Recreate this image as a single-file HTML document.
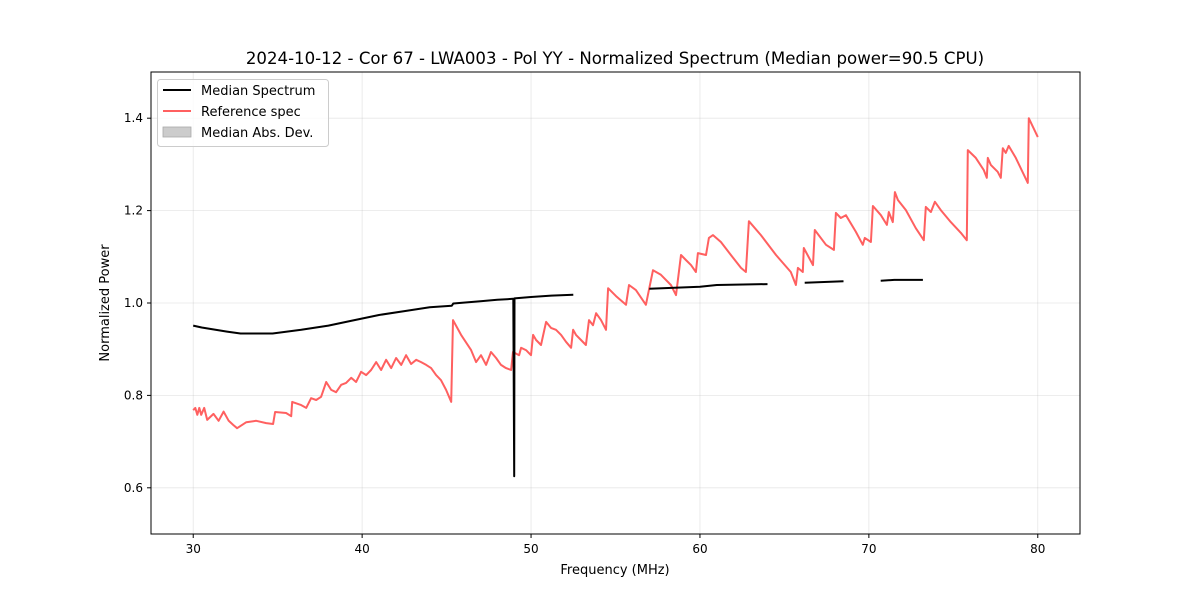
<!DOCTYPE html>
<html><head><meta charset="utf-8"><style>
body{margin:0;background:#fff;}
svg{display:block;font-family:"DejaVu Sans","Liberation Sans",sans-serif;}
</style></head><body>
<svg id="chart" width="1200" height="600" xmlns="http://www.w3.org/2000/svg">
<rect width="1200" height="600" fill="#fff"/>
<text x="615" y="64" text-anchor="middle" font-size="16.6">2024-10-12 - Cor 67 - LWA003 - Pol YY - Normalized Spectrum (Median power=90.5 CPU)</text>
<g id="grid"></g>
<g id="marks"></g>
<rect x="151" y="72" width="929" height="462" fill="none" stroke="#000" stroke-width="1"/>
<g id="ticks"></g>
<text x="615" y="574" text-anchor="middle" font-size="13">Frequency (MHz)</text>
<text x="109" y="303" text-anchor="middle" font-size="13" transform="rotate(-90 109 303)">Normalized Power</text>
<g>
<rect x="157.5" y="79.5" width="171" height="67" rx="3" fill="#fff" fill-opacity="0.8" stroke="#ccc"/>
<line x1="163" y1="90" x2="191" y2="90" stroke="#000" stroke-width="2"/>
<text x="201" y="95" font-size="13">Median Spectrum</text>
<line x1="163" y1="111" x2="191" y2="111" stroke="#ff6060" stroke-width="2"/>
<text x="201" y="116" font-size="13">Reference spec</text>
<rect x="163" y="127" width="28" height="10" fill="#ccc" stroke="#aaa" stroke-width="0.8"/>
<text x="201" y="137" font-size="13">Median Abs. Dev.</text>
</g>
</svg>
<script>
const xTicks=[30,40,50,60,70,80];
const yTicks=[0.6,0.8,1.0,1.2,1.4];
const refFreq=[30.0,30.12,30.24,30.36,30.47,30.65,30.83,31.2,31.5,31.8,32.1,32.37,32.6,33.14,33.73,34.32,34.73,34.85,35.5,35.8,35.86,36.39,36.69,36.98,37.28,37.57,37.87,38.17,38.46,38.76,39.05,39.35,39.64,39.94,40.24,40.53,40.83,41.12,41.42,41.72,42.01,42.31,42.6,42.9,43.2,43.49,43.79,44.08,44.38,44.67,44.97,45.27,45.38,45.86,46.45,46.75,47.04,47.34,47.63,47.93,48.22,48.52,48.82,48.93,49.29,49.41,49.7,50.0,50.12,50.3,50.59,50.89,51.18,51.48,51.78,52.07,52.37,52.49,52.66,52.96,53.25,53.43,53.67,53.85,54.14,54.44,54.56,55.03,55.62,55.8,56.21,56.8,56.98,57.22,57.69,58.28,58.58,58.88,59.17,59.47,59.76,59.88,60.36,60.53,60.77,61.24,61.83,62.43,62.72,62.9,63.61,64.5,65.38,65.68,65.8,66.09,66.15,66.69,66.8,67.46,67.93,68.05,68.34,68.64,69.23,69.64,69.76,70.12,70.24,70.71,71.07,71.18,71.42,71.54,71.72,72.19,72.78,73.25,73.37,73.67,73.91,74.26,74.85,75.44,75.8,75.86,76.33,76.8,76.98,77.04,77.22,77.63,77.81,77.93,78.11,78.28,78.7,79.41,79.47,80.0];
const refVal=[0.768,0.773,0.758,0.773,0.758,0.773,0.747,0.76,0.745,0.765,0.745,0.736,0.729,0.742,0.745,0.740,0.738,0.764,0.762,0.755,0.786,0.779,0.773,0.794,0.790,0.797,0.829,0.812,0.807,0.823,0.827,0.838,0.829,0.851,0.844,0.855,0.872,0.855,0.877,0.859,0.881,0.866,0.887,0.868,0.877,0.872,0.866,0.859,0.844,0.833,0.812,0.786,0.963,0.931,0.898,0.872,0.887,0.866,0.894,0.881,0.866,0.859,0.855,0.894,0.887,0.903,0.898,0.887,0.931,0.920,0.909,0.959,0.946,0.942,0.931,0.916,0.903,0.942,0.931,0.920,0.909,0.963,0.952,0.978,0.963,0.942,1.032,1.015,0.996,1.039,1.028,0.996,1.028,1.071,1.061,1.039,1.017,1.104,1.093,1.082,1.067,1.108,1.104,1.141,1.147,1.132,1.104,1.076,1.067,1.177,1.147,1.104,1.067,1.039,1.076,1.067,1.119,1.082,1.158,1.126,1.115,1.195,1.184,1.190,1.154,1.126,1.141,1.132,1.210,1.190,1.169,1.197,1.175,1.240,1.223,1.201,1.162,1.136,1.208,1.197,1.219,1.201,1.175,1.152,1.136,1.331,1.314,1.288,1.271,1.314,1.299,1.284,1.271,1.335,1.325,1.340,1.314,1.260,1.400,1.359];
const medFreq1=[30,30.5,31,32,32.8,34.7,36.4,38,39.3,41,42.6,44,45.3,45.4,47,48,48.95,49.0,49.02,50,51.2,52.5];
const medVal1=[0.951,0.947,0.944,0.938,0.934,0.934,0.942,0.951,0.961,0.974,0.983,0.991,0.994,0.999,1.004,1.007,1.009,0.625,1.010,1.013,1.016,1.018];
const medFreq2=[57,60,61,64];
const medVal2=[1.031,1.035,1.039,1.041];
const medFreq3=[66.2,68.5];
const medVal3=[1.044,1.047];
const medFreq4=[70.7,71.5,73.2];
const medVal4=[1.048,1.050,1.050];

const X0=151,X1=1080,Y0=534,Y1=72,FMIN=27.5,FMAX=82.5,VMIN=0.5,VMAX=1.5;
function sx(f){return X0+(f-FMIN)/(FMAX-FMIN)*(X1-X0);}
function sy(v){return Y0-(v-VMIN)/(VMAX-VMIN)*(Y0-Y1);}
const NS="http://www.w3.org/2000/svg";
function mk(tag,attrs,parent){const e=document.createElementNS(NS,tag);for(const k in attrs)e.setAttribute(k,attrs[k]);parent.appendChild(e);return e;}
const grid=document.getElementById('grid'),ticks=document.getElementById('ticks'),marks=document.getElementById('marks');
xTicks.forEach(t=>{const x=sx(t);
 const g=mk('line',{x1:x,y1:Y1,x2:x,y2:Y0,stroke:'#b0b0b0','stroke-opacity':0.3,'stroke-width':0.8},grid);
 
 
 const tk=mk('line',{x1:x,y1:Y0,x2:x,y2:Y0+4,stroke:'#000'},ticks);
 
 
 const tx=mk('text',{x:x,y:Y0+19,'text-anchor':'middle','font-size':12},ticks);tx.textContent=t;
 
 
});
yTicks.forEach(t=>{const y=sy(t);
 const g=mk('line',{x1:X0,y1:y,x2:X1,y2:y,stroke:'#b0b0b0','stroke-opacity':0.3,'stroke-width':0.8},grid);
 
 
 const tk=mk('line',{x1:X0-4,y1:y,x2:X0,y2:y,stroke:'#000'},ticks);
 
 
 const tx=mk('text',{x:X0-8,y:y+4,'text-anchor':'end','font-size':12},ticks);tx.textContent=t.toFixed(1);
 
 
});
function line(fs,vs,color,w){return mk('polyline',{points:fs.map((f,i)=>sx(f).toFixed(1)+','+sy(vs[i]).toFixed(1)).join(' '),fill:'none',stroke:color,'stroke-width':w,'stroke-linejoin':'round'},marks);}
const r=line(refFreq,refVal,'#ff6060',2);


[[medFreq1,medVal1],[medFreq2,medVal2],[medFreq3,medVal3],[medFreq4,medVal4]].forEach(s=>{
 const m=line(s[0],s[1],'#000',2);
 
 
});
</script>
</body></html>
